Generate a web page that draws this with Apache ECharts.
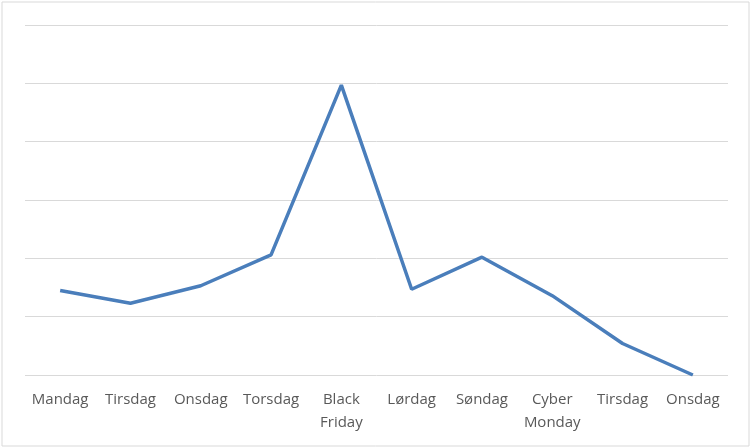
<!DOCTYPE html>
<html><head><meta charset="utf-8">
<script src="https://cdn.jsdelivr.net/npm/echarts@6/dist/echarts.min.js"></script>
<style>html,body{margin:0;padding:0;background:#fff}#c{width:754px;height:448px}</style>
</head><body><div id="c"></div>
<script>
const categories = ['Mandag','Tirsdag','Onsdag','Torsdag','Black\nFriday','Lørdag','Søndag','Cyber\nMonday','Tirsdag','Onsdag'];
const values = [1.45, 1.23, 1.53, 2.06, 4.97, 1.47, 2.02, 1.36, 0.54, 0.0];
const chart = echarts.init(document.getElementById('c'), null, {renderer:'canvas'});
chart.setOption({
  animation:false,
  backgroundColor:'#fff',
  graphic:[{type:'rect',shape:{x:2,y:2,width:747,height:444},style:{fill:'none',stroke:'#d9d9d9',lineWidth:1},silent:true}],
  grid:{left:25,right:26,top:25,bottom:73,containLabel:false},
  xAxis:{type:'category',data:categories,boundaryGap:true,
    axisLine:{show:false},axisTick:{show:false},
    axisLabel:{color:'#595959',fontFamily:'Open Sans',fontSize:15,lineHeight:23,margin:13,interval:0}},
  yAxis:{type:'value',min:0,max:6,interval:1,axisLabel:{show:false},axisLine:{show:false},axisTick:{show:false},
    splitLine:{lineStyle:{color:'#d9d9d9',width:1}}},
  series:[{type:'line',data:values,symbol:'none',lineStyle:{color:'#4a7ebb',width:3.5},itemStyle:{color:'#4a7ebb'}}]
});
</script></body></html>
